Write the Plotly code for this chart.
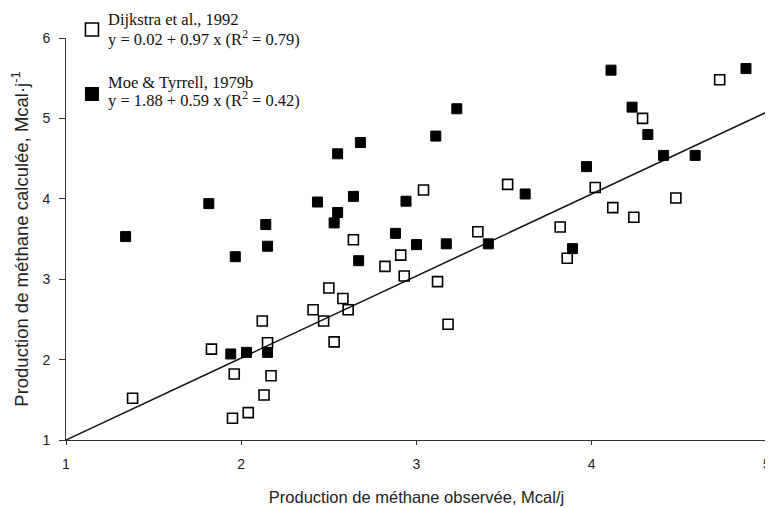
import plotly.graph_objects as go

# Dijkstra et al., 1992 (open squares)
dij_x = [1.38, 1.83, 1.95, 1.96, 2.04, 2.12, 2.13, 2.15, 2.17, 2.41, 2.47, 2.50, 2.53, 2.58, 2.61, 2.64,
         2.82, 2.91, 2.93, 3.04, 3.12, 3.18, 3.35, 3.52, 3.82, 3.86, 4.02, 4.12, 4.24, 4.29, 4.48, 4.73]
dij_y = [1.52, 2.13, 1.27, 1.82, 1.34, 2.48, 1.56, 2.21, 1.80, 2.62, 2.48, 2.89, 2.22, 2.76, 2.62, 3.49,
         3.16, 3.30, 3.04, 4.11, 2.97, 2.44, 3.59, 4.18, 3.65, 3.26, 4.14, 3.89, 3.77, 5.00, 4.01, 5.48]

# Moe & Tyrrell, 1979b (filled squares)
moe_x = [1.34, 1.815, 1.94, 1.966, 2.03, 2.14, 2.15, 2.15, 2.435, 2.53, 2.55, 2.55, 2.64, 2.67, 2.68,
         2.88, 2.94, 3.00, 3.11, 3.17, 3.23, 3.41, 3.62, 3.89, 3.97, 4.11, 4.23, 4.32, 4.41, 4.59, 4.88]
moe_y = [3.53, 3.94, 2.07, 3.28, 2.09, 3.68, 3.41, 2.09, 3.96, 3.70, 3.83, 4.56, 4.03, 3.23, 4.70,
         3.57, 3.97, 3.43, 4.78, 3.44, 5.12, 3.44, 4.06, 3.38, 4.40, 5.60, 5.14, 4.80, 4.54, 4.54, 5.62]

# 1:1 reference line
line_x = [1, 5]
line_y = [1, 5.08]

x_ticks = [1, 2, 3, 4, 5]
y_ticks = [1, 2, 3, 4, 5, 6]

legend_lines = [
    "Dijkstra et al., 1992",
    "y = 0.02 + 0.97 x (R<sup>2</sup> = 0.79)",
    "Moe & Tyrrell, 1979b",
    "y = 1.88 + 0.59 x (R<sup>2</sup> = 0.42)",
]

fig = go.Figure()

fig.add_trace(go.Scatter(x=line_x, y=line_y, mode="lines",
                         line=dict(color="#111", width=1.5), showlegend=False, hoverinfo="skip"))

fig.add_trace(go.Scatter(x=moe_x, y=moe_y, mode="markers", showlegend=False,
                         marker=dict(symbol="square", size=10, color="#000",
                                     line=dict(color="#000", width=1))))
fig.add_trace(go.Scatter(x=dij_x, y=dij_y, mode="markers", showlegend=False,
                         marker=dict(symbol="square-open", size=10, color="#000",
                                     line=dict(width=1.6))))

# legend symbols (text placed as annotations)
fig.add_trace(go.Scatter(x=[None], y=[None], mode="markers", name=" ", legend="legend",
                         marker=dict(symbol="square-open", size=13, color="#000", line=dict(width=1.6))))
fig.add_trace(go.Scatter(x=[None], y=[None], mode="markers", name=" ", legend="legend2",
                         marker=dict(symbol="square", size=14, color="#000")))

serif = "Liberation Serif, Times New Roman, serif"
ann_y = [1.0448, 1.0, 0.8905, 0.8458]
for txt, yy in zip(legend_lines, ann_y):
    fig.add_annotation(text=txt, x=0.0575, y=yy, xref="paper", yref="paper",
                       xanchor="left", yanchor="middle", showarrow=False,
                       font=dict(family=serif, size=16.5, color="#111"))

leg_common = dict(xanchor="left", yanchor="middle", bgcolor="rgba(0,0,0,0)",
                  font=dict(family=serif, size=12, color="#111"))

fig.update_layout(
    width=765, height=500,
    margin=dict(l=58, r=2, t=30, b=68),
    paper_bgcolor="white", plot_bgcolor="white",
    font=dict(family="Liberation Sans, Arial", size=14, color="#222"),
    legend=dict(x=0.0085, y=1.021, **leg_common),
    legend2=dict(x=0.0085, y=0.8605, **leg_common),
    xaxis=dict(range=[1, 5], tickvals=x_ticks, ticks="outside", ticklen=4, tickcolor="#333",
               showline=True, linecolor="#333", linewidth=1, showgrid=False, zeroline=False,
               ticklabelstandoff=7, ticklabeloverflow="allow",
               title=dict(text="Production de méthane observée, Mcal/j", standoff=20,
                          font=dict(size=16.5)),
               tickfont=dict(size=14)),
    yaxis=dict(range=[1, 6], tickvals=y_ticks, ticks="outside", ticklen=6, tickcolor="#333",
               showline=True, linecolor="#333", linewidth=1, showgrid=False, zeroline=False,
               ticklabelstandoff=6,
               title=dict(text="Production de méthane calculée, Mcal·j<sup>-1</sup>", standoff=14,
                          font=dict(size=18.5)),
               tickfont=dict(size=14)),
)

fig.write_html("out.html")
